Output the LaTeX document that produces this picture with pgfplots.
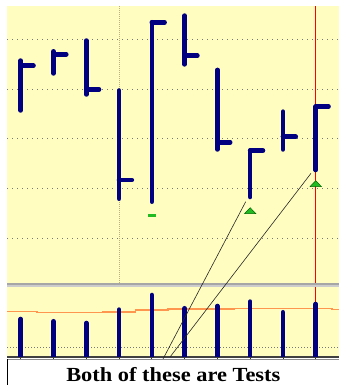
\documentclass[border=0pt]{standalone}
\usepackage{graphicx}
\usepackage{pgfplots}
\pgfplotsset{compat=1.18}
\usepackage{fontspec}
\setmainfont{Liberation Serif}
\definecolor{panelbg}{RGB}{255,253,192}
\definecolor{barblue}{RGB}{0,0,128}
\definecolor{mkgreen}{RGB}{34,187,34}
\definecolor{maorange}{RGB}{255,150,80}
\definecolor{gridgray}{RGB}{120,120,120}
\definecolor{tanline}{RGB}{190,175,130}
\definecolor{cursorred}{RGB}{255,0,0}
\begin{document}
\begin{tikzpicture}[x=1pt,y=1pt]
\path[use as bounding box, clip] (0,0) rectangle (339,385);
\fill[white] (0,0) rectangle (339,385);
% separator band
\fill[black!35] (7,100.3) rectangle (339,102.3);
\fill[black!20] (7,98) rectangle (339,100.3);
% ---------------- lower (volume) panel
\begin{axis}[
  at={(7pt,28pt)}, anchor=south west,
  scale only axis, width=332pt, height=70pt,
  xmin=0.582, xmax=10.71, ymin=0, ymax=70,
  axis background/.style={fill=panelbg},
  axis x line*=bottom, axis y line*=left,
  x axis line style={-, line width=1.3pt, draw=black!75},
  y axis line style={draw=none},
  xtick={1,...,10}, xticklabels={},
  xtick style={draw=black!80, line width=0.8pt},
  tick align=outside, major tick length=2.5pt,
  ytick={9.7}, yticklabels={}, ytick style={draw=none},
  ymajorgrids,
  y grid style={draw=gridgray, line width=0.9pt, dash pattern=on 0.9pt off 2.1pt},
]
\addplot[draw=cursorred, line width=1.3pt] coordinates {(10,0) (10,70)};
\addplot[maorange, line width=1.6pt, const plot mark mid] coordinates {
(0,45.3) (1,45.3) (2,44.3) (3,44.3) (4,45.0) (5,46.7) (6,47.7) (7,47.7) (8,48.3) (9,48.3) (10,48.3) (11,47.3)};
\addplot[ycomb, barblue, line width=4.6pt, line cap=round, mark=none] coordinates {
(1,38.0) (2,35.7) (3,34.0) (4,47.4) (5,62.0) (6,48.7) (7,51.0) (8,55.4) (9,44.7) (10,53.0)};
\end{axis}
% ---------------- upper (price) panel
\begin{axis}[
  at={(7pt,102pt)}, anchor=south west,
  scale only axis, width=332pt, height=277pt,
  xmin=0.582, xmax=10.71, ymin=95.508, ymax=123.346,
  axis background/.style={fill=panelbg},
  axis line style={draw=none},
  xtick=\empty, ytick={100,105,110,115,120}, yticklabels={},
  major tick length=0pt,
  ymajorgrids,
  y grid style={draw=gridgray, line width=0.9pt, dash pattern=on 0.9pt off 4.1pt},
  clip=false,
]
\addplot[tanline, line width=1pt, dash pattern=on 1pt off 1pt] coordinates {(4,95.508) (4,123.346)};
\addplot[draw=cursorred, line width=1.3pt] coordinates {(10,95.508) (10,123.346)};
% high-low bars
\addplot[barblue, line width=4.6pt, line cap=round, unbounded coords=jump] coordinates {
(1,112.85) (1,117.86) (1,nan)
(2,116.57) (2,118.79) (2,nan)
(3,114.46) (3,119.87) (3,nan)
(4,103.98) (4,114.85) (4,nan)
(5,103.68) (5,121.71) (5,nan)
(6,117.48) (6,122.38) (6,nan)
(7,108.93) (7,116.92) (7,nan)
(8,104.15) (8,108.82) (8,nan)
(9,108.93) (9,112.73) (9,nan)
(10,106.86) (10,113.24)};
% close ticks
\addplot[barblue, line width=4.6pt, line cap=round, unbounded coords=jump] coordinates {
(1,117.35) (1.39,117.35) (1.39,nan)
(2,118.49) (2.39,118.49) (2.39,nan)
(3,114.97) (3.39,114.97) (3.39,nan)
(4,105.86) (4.39,105.86) (4.39,nan)
(5,121.71) (5.39,121.71) (5.39,nan)
(6,118.35) (6.39,118.35) (6.39,nan)
(7,109.65) (7.39,109.65) (7.39,nan)
(8,108.82) (8.39,108.82) (8.39,nan)
(9,110.21) (9.39,110.21) (9.39,nan)
(10,113.24) (10.39,113.24)};
% signal markers
\addplot[only marks, mark=-, mark size=4pt, mark options={line width=3pt, draw=mkgreen}] coordinates {(5,102.34)};
\addplot[only marks, mark=triangle*, mark size=6.5pt, mark options={yscale=0.6, fill=mkgreen, draw=green!40!black, line width=0.5pt}] coordinates {(8,102.68) (10,105.40)};
% trend lines
\addplot[black!85, line width=0.6pt] coordinates {(7.864,103.68) (5.341,87.87)};
\addplot[black!85, line width=0.6pt] coordinates {(9.856,106.53) (5.555,88.07)};
\end{axis}
% caption box
\draw[black!45, line width=0.6pt] (7,25.8) -- (339,25.8);
\draw[black, line width=1pt] (7.5,0) -- (7.5,26);
\node[anchor=base, inner sep=0pt] at (173.3,3.3) {\fontsize{20}{24}\selectfont\bfseries\scalebox{1.12}[1]{Both of these are Tests}};
\end{tikzpicture}
\end{document}
